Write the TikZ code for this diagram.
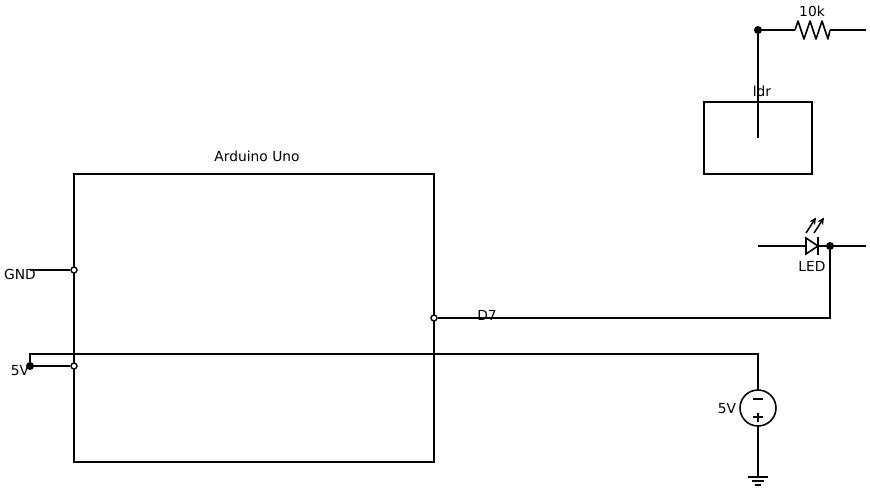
\documentclass[tikz,border=0pt]{standalone}
\usepackage{fontspec}
\setmainfont{DejaVu Sans}
\usetikzlibrary{arrows.meta}
\tikzset{
  wire/.style={draw,line width=1.6pt},
  block/.style={draw,line width=1.6pt,minimum width=#1,inner sep=0pt,outer sep=0pt},
  pin/.style={circle,draw,fill=white,line width=1.4pt,minimum size=6pt,inner sep=0pt},
  jun/.style={circle,fill=black,minimum size=8pt,inner sep=0pt},
  lbl/.style={font=\fontsize{13.8}{16}\selectfont,inner sep=0pt},
  lamp/.style={line width=1.5pt,-{Stealth[length=7pt,width=6.5pt]}}
}
\begin{document}
\begin{tikzpicture}[x=1pt,y=-1pt]
  \useasboundingbox (0,0) rectangle (870,490);

  % blocks
  \node[block=360pt,minimum height=288pt] (uno) at (254,318) {};
  \node[block=108pt,minimum height=72pt] (ldrbox) at (758,138) {};
  \node[lbl] (unolbl) at (257,156.5) {Arduino Uno};
  \node[lbl] (ldrlbl) at (762,91.5) {ldr};

  % led wire goes under the diode
  \coordinate (lin) at (758,246);
  \coordinate (lend) at (866,246);
  \draw[wire] (lin) -- (lend);

  % pins
  \node[pin] (gndpin) at (74,270) {};
  \node[pin] (vpin) at (74,366) {};
  \node[pin] (dpin) at (434,318) {};
  \node[lbl] (gndlbl) at (20,274.5) {GND};
  \node[lbl] (vlbl) at (20,370.5) {5V};
  \node[lbl] (dlbl) at (487,315.5) {D7};
  \coordinate (gndend) at (30,270);
  \node[jun] (vjun) at (30,366) {};
  \coordinate (vtop) at (30,354);
  \coordinate (vright) at (758,354);

  % supply
  \node[circle,draw,line width=1.6pt,minimum size=36pt,inner sep=0pt,outer sep=0pt] (src) at (758,408) {};
  \node[lbl] (srclbl) at (727,408.5) {5V};
  \coordinate (gnd) at (758,477);
  \draw[wire] (753,399) -- (763,399)
              (753,417) -- (763,417) (758,412.5) -- (758,421.5);
  \draw[wire] (748,477) -- (768,477) (752,481) -- (764,481) (755,485) -- (761,485);

  % resistor
  \node[jun] (rjun) at (758,30) {};
  \coordinate (rin) at (795,30);
  \coordinate (rout) at (830,30);
  \coordinate (rend) at (866,30);
  \coordinate (ldrend) at (758,138);
  \node[lbl] (rlbl) at (812,11.5) {10k};
  \draw[wire,line join=round] (rin) -- (798,21) -- (804,39) -- (810,21) -- (816,39)
    -- (822,21) -- (828,39) -- (rout);

  % led
  \node[jun] (ljun) at (830,246) {};
  \coordinate (dcorner) at (830,318);
  \node[lbl] (ledlbl) at (812,266.5) {LED};
  \draw[wire,fill=white,line join=miter] (806,238) -- (818,246) -- (806,254) -- cycle;
  \draw[wire] (818,237) -- (818,255);
  \draw[lamp] (806,233) -- (816,217.5);
  \draw[lamp] (814,233) -- (824,217.5);

  % connections
  \draw[wire] (gndend) -- (gndpin);
  \draw[wire] (vjun) -- (vpin);
  \draw[wire] (vjun) -- (vtop) -- (vright) -- (src);
  \draw[wire] (src) -- (gnd);
  \draw[wire] (dpin) -- (dcorner) -- (ljun);
  \draw[wire] (rjun) -- (rin);
  \draw[wire] (rout) -- (rend);
  \draw[wire] (rjun) -- (ldrend);
\end{tikzpicture}
\end{document}
